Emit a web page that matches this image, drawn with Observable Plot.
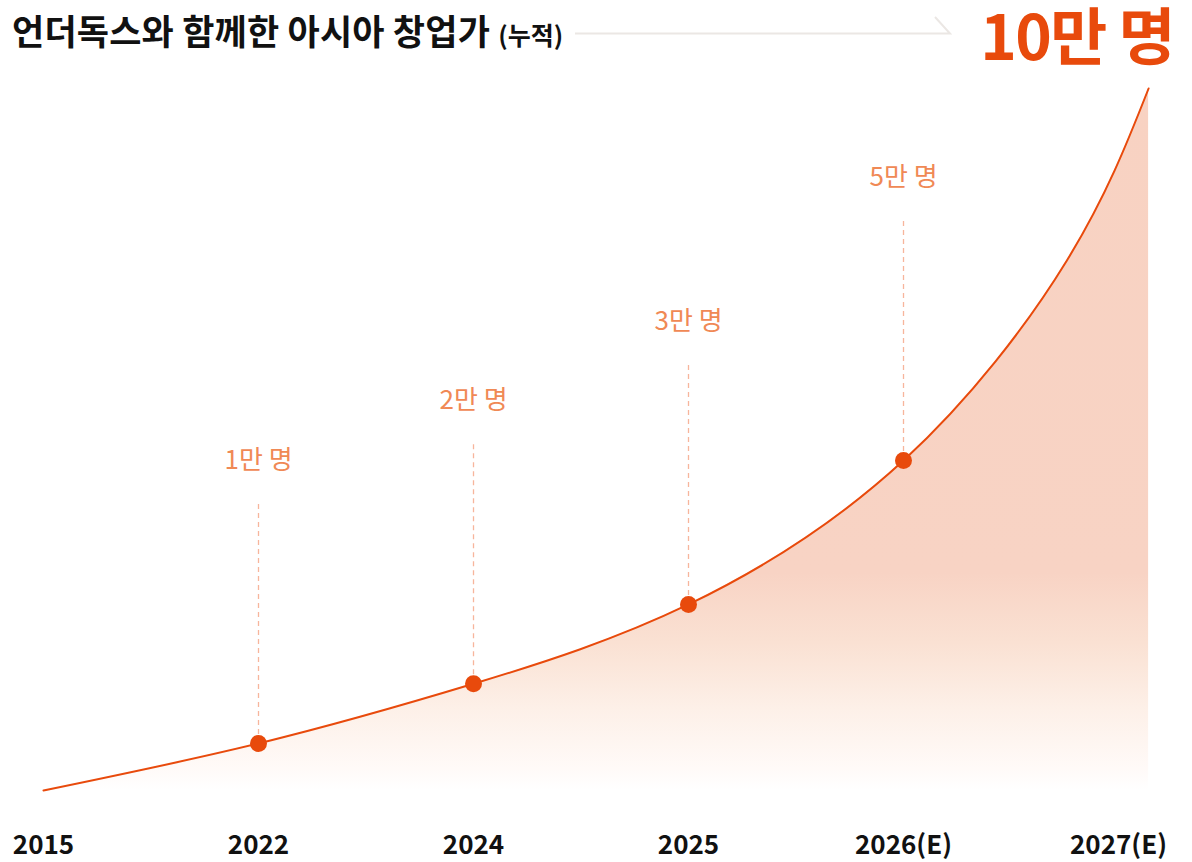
<!DOCTYPE html>
<html>
<head>
<meta charset="utf-8">
<script src="https://cdn.jsdelivr.net/npm/d3@7"></script>
<script src="https://cdn.jsdelivr.net/npm/@observablehq/plot@0.6"></script>
<style>
  body { margin: 0; background: #fff; font-family: "Noto Sans CJK KR", "Noto Sans", sans-serif; }
  #wrap { width: 1192px; }
  #header { position: relative; height: 70px; }
  #title { position: absolute; left: 12px; top: 0; line-height: 60px; font-size: 35px; font-weight: 700; color: #111; letter-spacing: 0.2px; white-space: nowrap; }
  #title span { font-size: 25px; letter-spacing: 0px; }
  #big { position: absolute; right: 18px; top: 2px; line-height: 62px; font-size: 62px; font-weight: 700; color: #e84a0c; letter-spacing: -1.5px; white-space: nowrap; }
  #arrow { position: absolute; left: 575px; top: 0; }
</style>
</head>
<body>
<div id="wrap">
  <div id="header">
    <div id="title">언더독스와 함께한 아시아 창업가 <span>(누적)</span></div>
    <svg id="arrow" width="380" height="70"><path d="M0,33.5H375L360,17" fill="none" stroke="#ebe7e4" stroke-width="2"/></svg>
    <div id="big">10만 명</div>
  </div>
  <div id="chart"></div>
</div>
<script>
// x-axis categories (evenly spaced)
const years = ["2015", "2022", "2024", "2025", "2026(E)", "2027(E)"];
// curve shape (x in category-index units, y in relative height 0..100)
const curveX = [0, 1, 2, 3, 4, 4.76, 5.14];
const curveY = [0, 6.7, 15.2, 26.5, 47.0, 75.5, 100];
// highlighted milestones
const dotIndex = [1, 2, 3, 4];
const dotValue = [6.7, 15.2, 26.5, 47.0];
const dotLabels = ["1만 명", "2만 명", "3만 명", "5만 명"];

const curve = curveX.map((x, i) => ({x, y: curveY[i]}));
const dots = dotIndex.map((x, i) => ({x, y: dotValue[i], label: dotLabels[i]}));

const LINE = "#e84a0c";
const RISE = 34.5; // dashed guide length (relative units)

const gradient = () => {
  const defs = d3.create("svg:defs");
  const g = defs.append("linearGradient").attr("id", "areaGrad")
    .attr("x1", 0).attr("y1", 0).attr("x2", 0).attr("y2", 1);
  [[0, "#f8d2c2"], [0.69, "#f8d3c4"], [0.79, "#fae1d3"], [0.885, "#fdf0e8"], [0.97, "#fffaf8"], [1, "#ffffff"]]
    .forEach(([o, c]) => g.append("stop").attr("offset", o).attr("stop-color", c));
  return defs.node();
};

const chart = Plot.plot({
  width: 1192,
  height: 792,
  marginTop: 18,
  marginBottom: 72,
  marginLeft: 43,
  marginRight: 74,
  style: {fontFamily: "'Noto Sans CJK KR', 'Noto Sans', sans-serif", background: "#fff"},
  x: {domain: [0, 5], axis: null},
  y: {domain: [0, 100], axis: null},
  marks: [
    gradient,
    Plot.areaY(curve, {x: "x", y1: 0, y2: "y", curve: "natural", fill: "url(#areaGrad)"}),
    Plot.line(curve, {x: "x", y: "y", curve: "natural", stroke: LINE, strokeWidth: 2}),
    Plot.ruleX(dots, {x: "x", y1: "y", y2: d => d.y + RISE, stroke: "#f7b59c", strokeWidth: 1.3, strokeDasharray: "5,4"}),
    Plot.dot(dots, {x: "x", y: "y", r: 8.5, fill: LINE, stroke: "none"}),
    Plot.text(dots, {x: "x", y: d => d.y + RISE, text: "label", dy: -41, fontSize: 26, fill: "#f08955"}),
    Plot.axisX({ticks: [0, 1, 2, 3, 4, 5], tickFormat: i => years[i], tickSize: 0, tickPadding: 45, fontSize: 26, fontWeight: 700, fill: "#111", label: null})
  ]
});
document.getElementById("chart").appendChild(chart);
</script>
</body>
</html>
